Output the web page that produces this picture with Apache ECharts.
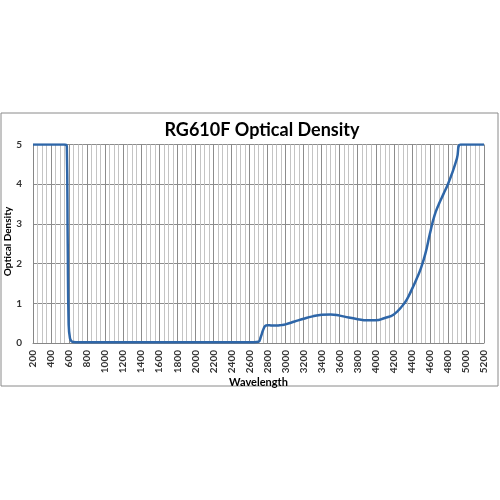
<!DOCTYPE html>
<html>
<head>
<meta charset="utf-8">
<script src="https://cdn.jsdelivr.net/npm/echarts@6/dist/echarts.min.js"></script>
<style>
html,body{margin:0;padding:0;background:#fff;}
#c{width:500px;height:500px;}
</style>
</head>
<body>
<div id="c"></div>
<script>
var titleText = "RG610F Optical Density";
var xName = "Wavelength";
var yName = "Optical Density";
var wavelengths = [200,550,575,585,595,610,630,650,700,1000,1500,2000,2500,2650,2700,2725,2750,2775,2800,2850,2900,2950,3000,3100,3200,3300,3400,3500,3600,3700,3800,3900,4000,4100,4200,4300,4350,4400,4450,4500,4550,4600,4650,4700,4750,4800,4850,4900,4940,5200];
var density = [5,5,4.95,2.5,0.5,0.12,0.04,0.025,0.02,0.02,0.02,0.02,0.02,0.02,0.03,0.15,0.32,0.43,0.45,0.44,0.44,0.45,0.47,0.54,0.61,0.67,0.71,0.72,0.69,0.64,0.6,0.57,0.57,0.63,0.72,0.95,1.12,1.35,1.6,1.88,2.25,2.75,3.2,3.5,3.75,4.0,4.3,4.65,5,5];
var xMin = 200, xMax = 5200, xStep = 200;
var yMin = 0, yMax = 5, yStep = 1;

var pts = wavelengths.map(function(w,i){return [w, density[i]];});
var chart = echarts.init(document.getElementById('c'));
var font = "'Lato','Liberation Sans',sans-serif";
chart.setOption({
  backgroundColor:'#ffffff',
  animation:false,
  grid:{left:33,right:16,top:144.5,bottom:157,containLabel:false},
  xAxis:{
    type:'value', min:xMin, max:xMax, interval:xStep,
    axisLine:{show:true,lineStyle:{color:'#868686',width:1}},
    axisTick:{show:false},
    minorTick:{show:false,splitNumber:4},
    minorSplitLine:{show:true,lineStyle:{color:'#c4c4c4',width:1}},
    splitLine:{show:true,lineStyle:{color:'#8c8c8c',width:1}},
    axisLabel:{rotate:90,fontSize:10,fontWeight:'bold',color:'#333333',fontFamily:font,margin:7,
      formatter:function(v){return String(v);}}
  },
  yAxis:{
    type:'value', min:yMin, max:yMax, interval:yStep,
    axisLine:{show:true,lineStyle:{color:'#868686',width:1}},
    axisTick:{show:false},
    splitLine:{show:true,lineStyle:{color:'#8c8c8c',width:1}},
    axisLabel:{fontSize:10,fontWeight:'bold',color:'#333333',fontFamily:font,margin:11}
  },
  graphic:[
    {type:'rect',shape:{x:1,y:113,width:497,height:273},style:{fill:'none',stroke:'#8a8a8a',lineWidth:1},silent:true,z:-1},
    {type:'text',x:262,y:130,style:{text:titleText,textAlign:'center',textVerticalAlign:'middle',font:"bold 18px 'Lato',sans-serif",fill:'#000'}},
    {type:'text',x:258.5,y:382,style:{text:xName,textAlign:'center',textVerticalAlign:'middle',font:"bold 11px 'Lato',sans-serif",fill:'#000'}},
    {type:'text',x:7.5,y:241.5,rotation:Math.PI/2,style:{text:yName,textAlign:'center',textVerticalAlign:'middle',font:"bold 10px 'Lato',sans-serif",fill:'#000'}}
  ],
  series:[{
    type:'line', data:pts, showSymbol:false, smooth:0.5, clip:true,
    lineStyle:{color:'#2e66a8',width:2.5}
  }]
});
</script>
</body>
</html>
